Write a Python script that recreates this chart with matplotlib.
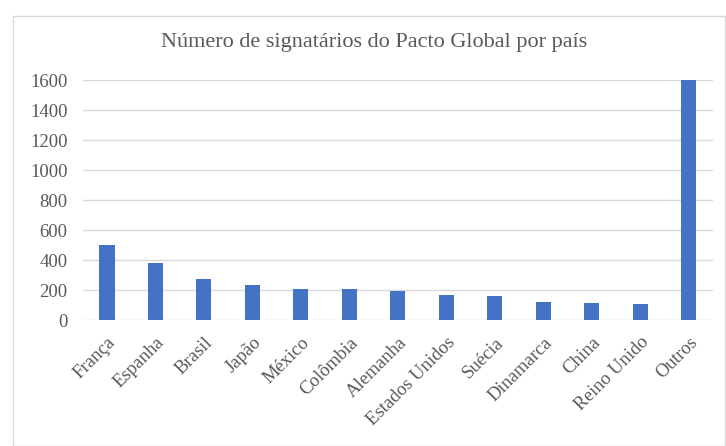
import matplotlib.pyplot as plt
from matplotlib.patches import Rectangle

# === Data ===
paises = ['França', 'Espanha', 'Brasil', 'Japão', 'México', 'Colômbia', 'Alemanha',
          'Estados Unidos', 'Suécia', 'Dinamarca', 'China', 'Reino Unido', 'Outros']
signatarios = [500, 380, 272, 232, 206, 205, 192, 170, 158, 118, 112, 104, 1600]
y_ticks = [0, 200, 400, 600, 800, 1000, 1200, 1400, 1600]

plt.rcParams['font.family'] = ['Liberation Serif', 'DejaVu Serif']

fig = plt.figure(figsize=(7.26, 4.46), dpi=100)
ax = fig.add_axes([0.114, 0.2825, 0.868, 0.538])

ax.bar(range(len(paises)), signatarios, width=0.31, color='#4472c4', zorder=3)
ax.set_xlim(-0.5, len(paises) - 0.5)
ax.set_ylim(0, 1600)
ax.set_yticks(y_ticks)
ax.grid(axis='y', color='#d9d9d9', linewidth=1, zorder=0)
ax.set_axisbelow(True)
for s in ax.spines.values():
    s.set_visible(False)

ax.set_xticks(range(len(paises)))
ax.set_xticklabels(paises, rotation=45, ha='right', rotation_mode='anchor')
ax.tick_params(axis='both', length=0, labelsize=13.5, colors='#595959')
ax.tick_params(axis='x', pad=10)
ax.tick_params(axis='y', pad=11)

fig.text(0.516, 0.905, 'Número de signatários do Pacto Global por país',
         ha='center', va='center', fontsize=16, color='#595959')

# chart border
fig.patches.append(Rectangle((0.018, 0.0), 0.98, 0.965, transform=fig.transFigure,
                             fill=False, edgecolor='#d9d9d9', linewidth=1))

fig.savefig('out.png', dpi=100)
